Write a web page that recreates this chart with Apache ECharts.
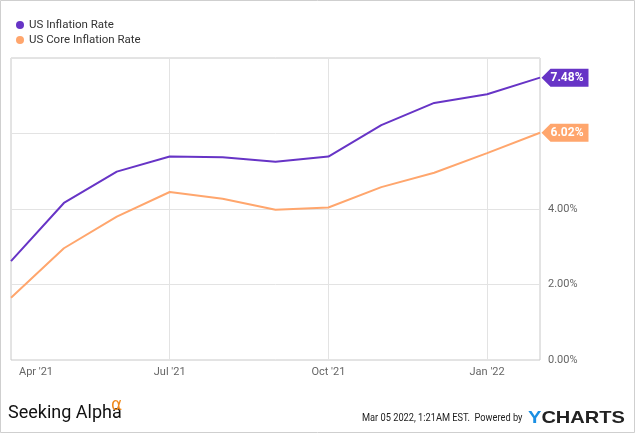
<!DOCTYPE html>
<html>
<head>
<meta charset="utf-8">
<script src="https://cdn.jsdelivr.net/npm/echarts@6/dist/echarts.min.js"></script>
<style>
html,body{margin:0;padding:0;background:#fff;}
#chart{width:635px;height:433px;}
</style>
</head>
<body>
<div id="chart"></div>
<script>
const months = ["Apr '21","May '21","Jun '21","Jul '21","Aug '21","Sep '21","Oct '21","Nov '21","Dec '21","Jan '22","Feb '22"];
const inflation = [2.62, 4.16, 4.99, 5.39, 5.37, 5.25, 5.39, 6.22, 6.81, 7.04, 7.48];
const coreInflation = [1.65, 2.96, 3.80, 4.45, 4.27, 3.98, 4.04, 4.58, 4.96, 5.48, 6.02];
const shownLabels = [0, 3, 6, 9];
const yTicks = [0, 2, 4, 6, 8];
const seriesNames = ["US Inflation Rate", "US Core Inflation Rate"];
const colors = ['#6734c6', '#ffa66d'];

const chart = echarts.init(document.getElementById('chart'));
const tagPath = 'path://M0,9 L9,0 L47,0 L47,18 L9,18 Z';
function endTag(data, color) {
  const last = data.length - 1;
  return {
    symbol: tagPath,
    symbolSize: [47, 18],
    symbolOffset: [25, 0],
    silent: true,
    data: [{ coord: [last, data[last]], value: data[last] }],
    itemStyle: { color: color },
    label: {
      show: true, position: 'inside', offset: [2, 0],
      color: '#fff', fontWeight: 'bold', fontSize: 12, fontFamily: 'Roboto',
      formatter: p => p.value.toFixed(2) + '%'
    }
  };
}
chart.setOption({
  animation: false,
  color: colors,
  legend: {
    orient: 'vertical', left: 16, top: 19, itemGap: 3, padding: 0,
    icon: 'circle', itemWidth: 8, itemHeight: 8,
    textStyle: { fontFamily: 'Roboto', fontSize: 11.5, color: '#333' },
    data: seriesNames
  },
  grid: { left: 11, right: 95, top: 58, bottom: 73, show: true, borderColor: '#c8c8c8', borderWidth: 1 },
  xAxis: {
    type: 'category', data: months, boundaryGap: false,
    axisLine: { show: false }, axisTick: { show: false },
    axisLabel: {
      interval: (i) => shownLabels.includes(i),
      color: '#666', fontFamily: 'Roboto', fontSize: 11, margin: 7,
      formatter: (v, i) => i === 0 ? '{first|' + v + '}' : v,
      rich: { first: { padding: [0, 0, 0, 50], color: '#666', fontFamily: 'Roboto', fontSize: 11 } }
    },
    splitLine: { show: true, interval: (i) => i > 0 && shownLabels.includes(i), lineStyle: { color: '#e3e3e3' } }
  },
  yAxis: {
    type: 'value', position: 'right', min: yTicks[0], max: yTicks[yTicks.length - 1], interval: 2,
    axisLine: { show: false }, axisTick: { show: false },
    axisLabel: {
      color: '#666', fontFamily: 'Roboto', fontSize: 11, margin: 8,
      formatter: v => v === 8 ? '' : v.toFixed(2) + '%'
    },
    splitLine: { lineStyle: { color: '#e3e3e3' } }
  },
  series: [
    { name: seriesNames[0], type: 'line', data: inflation, symbol: 'none', lineStyle: { width: 2 }, z: 3, markPoint: endTag(inflation, colors[0]) },
    { name: seriesNames[1], type: 'line', data: coreInflation, symbol: 'none', lineStyle: { width: 2 }, z: 2, markPoint: endTag(coreInflation, colors[1]) }
  ],
  graphic: [
    { type: 'rect', shape: { x: 0.5, y: 0.5, width: 634, height: 432 }, style: { fill: 'none', stroke: '#cfcfcf', lineWidth: 1 }, silent: true },
    { type: 'text', x: 8, y: 413, style: { text: 'Seeking Alpha', font: '18px "Liberation Sans Narrow", Roboto', fill: '#111', verticalAlign: 'middle' } },
    { type: 'text', x: 111, y: 406, style: { text: 'α', font: '17px "DejaVu Sans"', fill: '#f08a1c', verticalAlign: 'middle' } },
    { type: 'text', x: 362, y: 418.5, scaleX: 0.88, style: { text: 'Mar 05 2022, 1:21AM EST.  Powered by', font: '10.5px Roboto', fill: '#222', verticalAlign: 'middle' } },
    { type: 'text', x: 528, y: 418, scaleX: 1.18, style: {
        text: '{y|Y}{c|CHARTS}', verticalAlign: 'middle',
        rich: {
          y: { font: 'bold 17px "Liberation Sans", Roboto', fill: '#1a8fe3', color: '#1a8fe3' },
          c: { font: 'bold 17px "Liberation Sans", Roboto', fill: '#222', color: '#222' }
        } } }
  ]
});
</script>
</body>
</html>
